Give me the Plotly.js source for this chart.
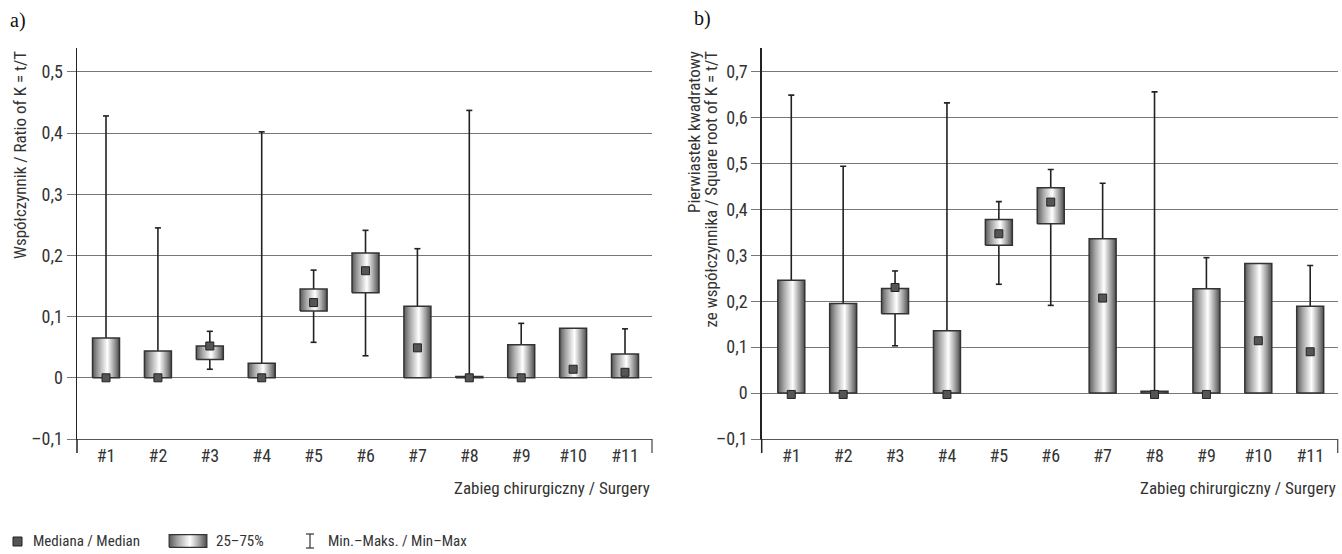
<!DOCTYPE html>
<html><head><meta charset="utf-8">
<script src="https://cdn.plot.ly/plotly-3.0.1.min.js"></script>
<style>html,body{margin:0;padding:0;background:#fff}</style>
</head><body><div id="chart" style="width:1342px;height:554px"></div>
<script>
// ---------- data ----------
const categories = ['#1','#2','#3','#4','#5','#6','#7','#8','#9','#10','#11'];

// a) Współczynnik K = t/T
const aMin = [0, 0, 0.014, 0, 0.058, 0.036, 0, 0, 0, 0, 0];
const aQ1  = [0, 0, 0.030, 0, 0.109, 0.139, 0, 0, 0, 0, 0];
const aMed = [0, 0, 0.052, 0, 0.123, 0.175, 0.049, 0, 0, 0.014, 0.009];
const aQ3  = [0.065, 0.044, 0.052, 0.024, 0.145, 0.204, 0.117, 0.002, 0.054, 0.081, 0.039];
const aMax = [0.428, 0.245, 0.076, 0.402, 0.176, 0.241, 0.211, 0.437, 0.089, 0.081, 0.080];

// b) Pierwiastek kwadratowy K
const bMin = [0, 0, 0.103, 0, 0.237, 0.191, 0, 0, 0, 0, 0];
const bQ1  = [0, 0, 0.173, 0, 0.322, 0.369, 0, 0, 0, 0, 0];
const bMed = [-0.003, -0.003, 0.230, -0.003, 0.347, 0.416, 0.207, -0.003, -0.003, 0.114, 0.090];
const bQ3  = [0.246, 0.195, 0.228, 0.136, 0.378, 0.447, 0.336, 0.004, 0.227, 0.282, 0.189];
const bMax = [0.649, 0.494, 0.266, 0.632, 0.417, 0.487, 0.457, 0.656, 0.295, 0.282, 0.278];

const aTickVals = [-0.1, 0, 0.1, 0.2, 0.3, 0.4, 0.5];
const aTickText = ['–0,1', '0', '0,1', '0,2', '0,3', '0,4', '0,5'];
const bTickVals = [-0.1, 0, 0.1, 0.2, 0.3, 0.4, 0.5, 0.6, 0.7];
const bTickText = ['–0,1', '0', '0,1', '0,2', '0,3', '0,4', '0,5', '0,6', '0,7'];

// ---------- styling ----------
const FONT = '"Liberation Sans Narrow", "Arial Narrow", "Roboto Condensed", sans-serif';
const TXT = '#333';
const W = 1342, H = 554;
const px = v => v / W;
const py = v => 1 - v / H;
const HALF = 0.26;     // half box width (category units)
const CAP = 0.058;     // half cap width
const gradScale = [[0, '#5a5a5a'], [0.22, '#a4a4a4'], [0.55, '#ffffff'], [0.8, '#a0a0a0'], [1, '#4c4c4c']];

function panelTraces(mn, q1, med, q3, mx, xa, ya) {
  const traces = [];
  const wx = [], wy = [];
  categories.forEach((c, i) => {
    if (mx[i] > q3[i]) {
      wx.push(i, i, null, i - CAP, i + CAP, null);
      wy.push(q3[i], mx[i], null, mx[i], mx[i], null);
    }
    if (mn[i] < q1[i]) {
      wx.push(i, i, null, i - CAP, i + CAP, null);
      wy.push(q1[i], mn[i], null, mn[i], mn[i], null);
    }
  });
  traces.push({x: wx, y: wy, xaxis: xa, yaxis: ya, mode: 'lines', type: 'scatter',
    line: {color: '#222', width: 1.6}, hoverinfo: 'skip', showlegend: false});
  categories.forEach((c, i) => {
    const x0 = i - HALF, x1 = i + HALF;
    traces.push({x: [x0, x1, x1, x0, x0], y: [q1[i], q1[i], q3[i], q3[i], q1[i]],
      xaxis: xa, yaxis: ya, type: 'scatter', mode: 'lines', fill: 'toself',
      fillgradient: {type: 'horizontal', colorscale: gradScale},
      line: {color: '#333', width: 1.5}, hoverinfo: 'skip', showlegend: false});
  });
  traces.push({x: categories.map((c, i) => i), y: med, xaxis: xa, yaxis: ya,
    type: 'scatter', mode: 'markers', cliponaxis: false,
    marker: {symbol: 'square', size: 8, color: '#555', line: {color: '#222', width: 1}},
    hoverinfo: 'skip', showlegend: false});
  return traces;
}

const data = [
  ...panelTraces(aMin, aQ1, aMed, aQ3, aMax, 'x', 'y'),
  ...panelTraces(bMin, bQ1, bMed, bQ3, bMax, 'x2', 'y2'),
  {x: [0, 1, 1, 0, 0], y: [0, 0, 1, 1, 0], xaxis: 'x3', yaxis: 'y3', type: 'scatter',
   mode: 'lines', fill: 'toself', fillgradient: {type: 'horizontal', colorscale: gradScale},
   line: {color: '#333', width: 1.2}, hoverinfo: 'skip', showlegend: false}
];

const yDom = [py(439), py(48)];
function xAxis(domain, range) {
  return {domain: domain, range: range, tickmode: 'array',
    tickvals: categories.map((c, i) => i), ticktext: categories,
    showgrid: false, zeroline: false, showline: true, linecolor: '#555', linewidth: 1,
    ticks: '', tickfont: {family: FONT, size: 18, color: TXT}, fixedrange: true};
}
function yAxis(anchor, range, vals, text) {
  return {anchor: anchor, domain: yDom, range: range, tickmode: 'array',
    tickvals: vals, ticktext: text, showgrid: true, gridcolor: '#777', gridwidth: 1,
    zeroline: false, showline: true, linecolor: '#222', linewidth: 1.5,
    ticks: 'outside', ticklen: 9, tickcolor: '#777', tickwidth: 1,
    tickfont: {family: FONT, size: 18, color: TXT}, fixedrange: true};
}

const xA = [px(77), px(652)];
const xB = [px(761.7), px(1337.7)];

const layout = {
  width: W, height: H, margin: {l: 0, r: 0, t: 0, b: 0},
  paper_bgcolor: '#fff', plot_bgcolor: 'rgba(0,0,0,0)', showlegend: false,
  xaxis: xAxis(xA, [-0.559, 10.52]),
  yaxis: yAxis('x', [-0.1, 0.539], aTickVals, aTickText),
  xaxis2: Object.assign(xAxis(xB, [-0.570, 10.53]), {anchor: 'y2'}),
  yaxis2: yAxis('x2', [-0.1, 0.7516], bTickVals, bTickText),
  xaxis3: {domain: [px(168), px(208)], range: [-0.03, 1.03], visible: false, anchor: 'y3', fixedrange: true},
  yaxis3: {domain: [py(548), py(534)], range: [-0.05, 1.05], visible: false, anchor: 'x3', fixedrange: true},
  shapes: [
    {type: 'line', xref: 'paper', yref: 'paper', x0: xA[0], x1: xA[0], y0: py(439), y1: py(453), line: {color: '#222', width: 1.5}},
    {type: 'line', xref: 'paper', yref: 'paper', x0: xA[1], x1: xA[1], y0: py(439), y1: py(453), line: {color: '#444', width: 1.2}},
    {type: 'line', xref: 'paper', yref: 'paper', x0: xB[0], x1: xB[0], y0: py(439), y1: py(453), line: {color: '#222', width: 1.5}},
    {type: 'line', xref: 'paper', yref: 'paper', x0: xB[1], x1: xB[1], y0: py(439), y1: py(453), line: {color: '#444', width: 1.2}},
    {type: 'rect', xref: 'paper', yref: 'paper', x0: px(13), x1: px(22), y0: py(546), y1: py(537), fillcolor: '#555', line: {color: '#222', width: 1}},
    {type: 'line', xref: 'paper', yref: 'paper', x0: px(310), x1: px(310), y0: py(548), y1: py(534), line: {color: '#333', width: 1.2}},
    {type: 'line', xref: 'paper', yref: 'paper', x0: px(306), x1: px(314), y0: py(534), y1: py(534), line: {color: '#333', width: 1.2}},
    {type: 'line', xref: 'paper', yref: 'paper', x0: px(306), x1: px(314), y0: py(548), y1: py(548), line: {color: '#333', width: 1.2}}
  ],
  annotations: [
    {text: 'a)', xref: 'paper', yref: 'paper', x: px(8), y: py(21), xanchor: 'left', yanchor: 'middle', showarrow: false,
     font: {family: '"Liberation Serif", "Times New Roman", serif', size: 20, color: '#111'}},
    {text: 'b)', xref: 'paper', yref: 'paper', x: px(692), y: py(18.5), xanchor: 'left', yanchor: 'middle', showarrow: false,
     font: {family: '"Liberation Serif", "Times New Roman", serif', size: 20, color: '#111'}},
    {text: 'Współczynnik / Ratio of K = t/T', xref: 'paper', yref: 'paper', x: px(20), y: py(49), xanchor: 'center', yanchor: 'top',
     textangle: -90, showarrow: false, font: {family: FONT, size: 17, color: TXT}},
    {text: 'Pierwiastek kwadratowy', xref: 'paper', yref: 'paper', x: px(694), y: py(49), xanchor: 'center', yanchor: 'top',
     textangle: -90, showarrow: false, font: {family: FONT, size: 17, color: TXT}},
    {text: 'ze współczynnika / Square root of K = t/T', xref: 'paper', yref: 'paper', x: px(710), y: py(49), xanchor: 'center', yanchor: 'top',
     textangle: -90, showarrow: false, font: {family: FONT, size: 17, color: TXT}},
    {text: 'Zabieg chirurgiczny / Surgery', xref: 'paper', yref: 'paper', x: xA[1], y: py(488), xanchor: 'right', yanchor: 'middle',
     showarrow: false, font: {family: FONT, size: 17, color: TXT}},
    {text: 'Zabieg chirurgiczny / Surgery', xref: 'paper', yref: 'paper', x: xB[1], y: py(488), xanchor: 'right', yanchor: 'middle',
     showarrow: false, font: {family: FONT, size: 17, color: TXT}},
    {text: 'Mediana / Median', xref: 'paper', yref: 'paper', x: px(31), y: py(541), xanchor: 'left', yanchor: 'middle',
     showarrow: false, font: {family: FONT, size: 15, color: TXT}},
    {text: '25–75%', xref: 'paper', yref: 'paper', x: px(214), y: py(541), xanchor: 'left', yanchor: 'middle',
     showarrow: false, font: {family: FONT, size: 15, color: TXT}},
    {text: 'Min.–Maks. / Min–Max', xref: 'paper', yref: 'paper', x: px(326), y: py(541), xanchor: 'left', yanchor: 'middle',
     showarrow: false, font: {family: FONT, size: 15, color: TXT}}
  ]
};

Plotly.newPlot('chart', data, layout, {staticPlot: true, displayModeBar: false});
</script></body></html>
